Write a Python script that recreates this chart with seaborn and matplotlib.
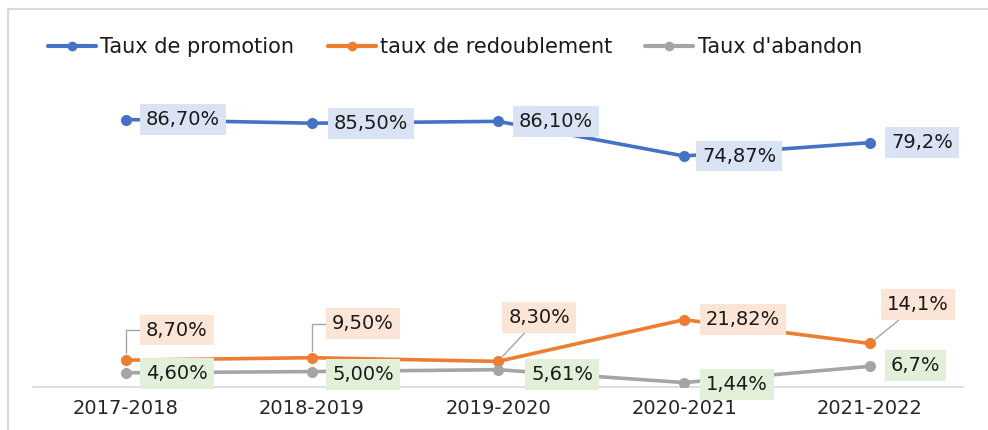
import numpy as np
import pandas as pd
import matplotlib
matplotlib.use("Agg")
import matplotlib.pyplot as plt
from matplotlib.lines import Line2D
import seaborn as sns

# ---- data ----
years = ["2017-2018", "2018-2019", "2019-2020", "2020-2021", "2021-2022"]
promotion = [86.70, 85.50, 86.10, 74.87, 79.2]
redoublement = [8.70, 9.50, 8.30, 21.82, 14.1]
abandon = [4.60, 5.00, 5.61, 1.44, 6.7]
promotion_lbl = ["86,70%", "85,50%", "86,10%", "74,87%", "79,2%"]
redoublement_lbl = ["8,70%", "9,50%", "8,30%", "21,82%", "14,1%"]
abandon_lbl = ["4,60%", "5,00%", "5,61%", "1,44%", "6,7%"]
series_names = ["Taux de promotion", "taux de redoublement", "Taux d'abandon"]

colors = ["#4472C4", "#ED7D31", "#A5A5A5"]
box_colors = ["#DAE3F3", "#FBE5D6", "#E2F0D9"]

sns.set_theme(style="white")
plt.rcParams["font.family"] = ["DejaVu Sans"]

df = pd.concat([
    pd.DataFrame({"year": years, "value": promotion, "serie": series_names[0]}),
    pd.DataFrame({"year": years, "value": redoublement, "serie": series_names[1]}),
    pd.DataFrame({"year": years, "value": abandon, "serie": series_names[2]}),
])

fig = plt.figure(figsize=(9.88, 4.3), dpi=100)
ax = fig.add_axes([33 / 988, 1 - 387 / 430, (963 - 33) / 988, (387 - 76) / 430])

sns.lineplot(data=df, x="year", y="value", hue="serie", palette=colors,
             marker="o", markersize=8, markeredgewidth=0, linewidth=2.6,
             legend=False, ax=ax, sort=False)

ax.set_xlim(-0.5, 4.5)
ax.set_ylim(0, 100.8)
ax.set_xlabel("")
ax.set_ylabel("")
ax.set_yticks([])
for s in ["left", "right", "top"]:
    ax.spines[s].set_visible(False)
ax.spines["bottom"].set_color("#D9D9D9")
ax.spines["bottom"].set_linewidth(1.2)
ax.spines["bottom"].set_zorder(0.5)
ax.tick_params(axis="x", length=0, labelsize=14, labelcolor="#262626", pad=9)

FS = 14

# ---- data labels ----
def lab(i, val, txt, dx, dy, k, ha="left", leader=None):
    kw = {}
    if leader is not None:
        kw["arrowprops"] = dict(arrowstyle="-", color="#A5A5A5", lw=1.0,
                                connectionstyle=leader, shrinkA=0, shrinkB=5)
    ax.annotate(txt, xy=(i, val), xytext=(dx, dy), textcoords="offset pixels",
                ha=ha, va="center", fontsize=FS, color="#1a1a1a",
                bbox=dict(boxstyle="square,pad=0.3", fc=box_colors[k], ec="none"),
                zorder=5, **kw)

p_off = [(20, 0), (22, 0), (21, 0), (18, 0), (21, 0)]
for i in range(5):
    lab(i, promotion[i], promotion_lbl[i], p_off[i][0], p_off[i][1], 0)

lab(0, redoublement[0], redoublement_lbl[0], 20, 30, 1, leader="angle,angleA=0,angleB=90,rad=0")
lab(1, redoublement[1], redoublement_lbl[1], 20, 34, 1, leader="angle,angleA=0,angleB=90,rad=0")
lab(2, redoublement[2], redoublement_lbl[2], 41, 44, 1, ha="center", leader="arc3")
lab(3, redoublement[3], redoublement_lbl[3], 22, 0, 1)
lab(4, redoublement[4], redoublement_lbl[4], 48, 39, 1, ha="center", leader="arc3")

a_off = [(20, -1), (20, -3), (33, -5), (22, -2), (21, 1)]
for i in range(5):
    lab(i, abandon[i], abandon_lbl[i], a_off[i][0], a_off[i][1], 2)

# ---- legend ----
handles = [Line2D([], [], color=c, lw=3, marker="o", markersize=7, markeredgewidth=0)
           for c in colors]
fig.legend(handles, series_names, loc="center left", bbox_to_anchor=(0.030, 1 - 47 / 430),
           ncol=3, frameon=False, fontsize=15, handlelength=2.3, handletextpad=0.2,
           columnspacing=1.6, labelcolor="#1a1a1a")

# ---- chart frame ----
fig.add_artist(Line2D([8 / 988, 1], [1 - 9 / 430] * 2, color="#D9D9D9", lw=1.5,
                      transform=fig.transFigure))
fig.add_artist(Line2D([8 / 988] * 2, [0, 1 - 9 / 430], color="#D9D9D9", lw=1.5,
                      transform=fig.transFigure))

fig.savefig("out.png", dpi=100)
